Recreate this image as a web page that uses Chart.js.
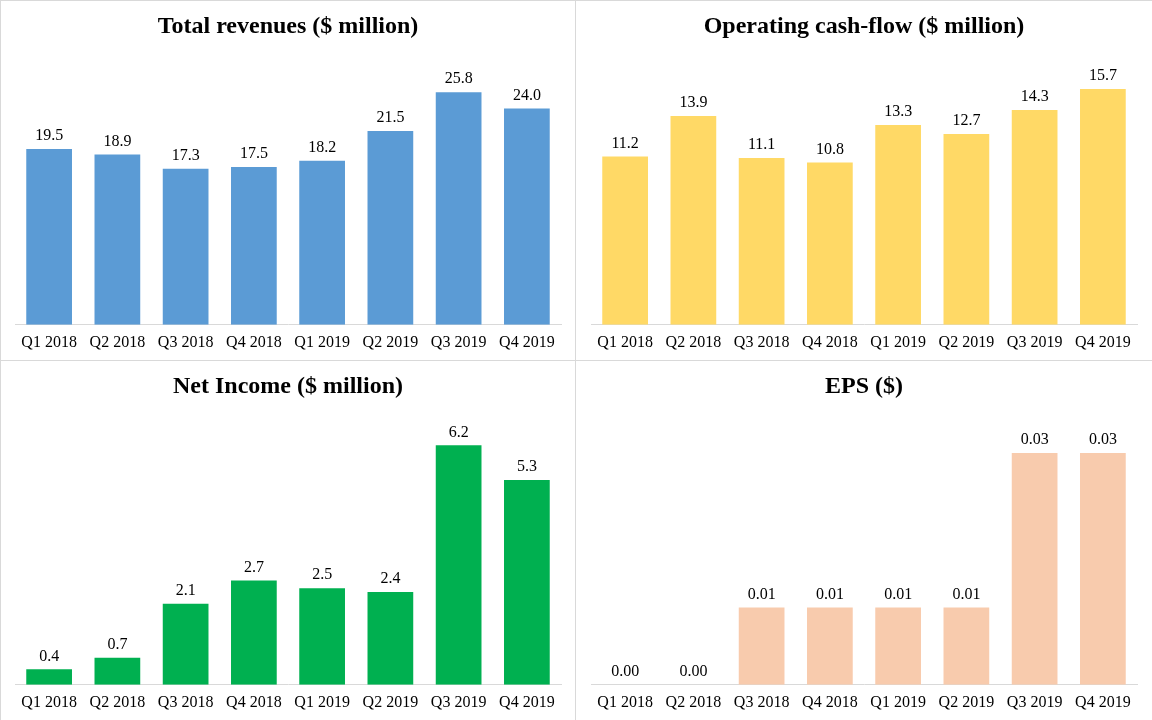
<!DOCTYPE html>
<html>
<head>
<meta charset="utf-8">
<script src="https://cdn.jsdelivr.net/npm/chart.js@4"></script>
<style>
  body { margin: 0; background: #fff; }
  #wrap { position: relative; width: 1152px; height: 720px; overflow: hidden; }
  .panel { position: absolute; width: 576px; height: 360px; }
  .line { position: absolute; background: #d9d9d9; }
</style>
</head>
<body>
<div id="wrap">
  <div class="panel" style="left:0;top:0"><canvas id="c1" width="576" height="360"></canvas></div>
  <div class="panel" style="left:576px;top:0"><canvas id="c2" width="576" height="360"></canvas></div>
  <div class="panel" style="left:0;top:360px"><canvas id="c3" width="576" height="360"></canvas></div>
  <div class="panel" style="left:576px;top:360px"><canvas id="c4" width="576" height="360"></canvas></div>
  <div class="line" style="left:0;top:0;width:1px;height:720px"></div>
  <div class="line" style="left:575px;top:0;width:1px;height:720px"></div>
  <div class="line" style="left:0;top:0;width:1152px;height:1px"></div>
  <div class="line" style="left:0;top:360px;width:1152px;height:1px"></div>
</div>
<script>
const quarters = ["Q1 2018", "Q2 2018", "Q3 2018", "Q4 2018", "Q1 2019", "Q2 2019", "Q3 2019", "Q4 2019"];
const revenues = [19.5, 18.9, 17.3, 17.5, 18.2, 21.5, 25.8, 24.0];
const cashFlow = [11.2, 13.9, 11.1, 10.8, 13.3, 12.7, 14.3, 15.7];
const netIncome = [0.4, 0.7, 2.1, 2.7, 2.5, 2.4, 6.2, 5.3];
const eps = [0.00, 0.00, 0.01, 0.01, 0.01, 0.01, 0.03, 0.03];

const serif = "'Liberation Serif', 'Times New Roman', serif";

// draws the value above each bar
const valueLabels = {
  id: 'valueLabels',
  afterDatasetsDraw(chart, args, opts) {
    const ctx = chart.ctx;
    const meta = chart.getDatasetMeta(0);
    const data = chart.data.datasets[0].data;
    ctx.save();
    ctx.font = "16px " + serif;
    ctx.fillStyle = "#000";
    ctx.textAlign = "center";
    ctx.textBaseline = "bottom";
    meta.data.forEach((bar, i) => {
      ctx.fillText(data[i].toFixed(opts.digits), bar.x, bar.y - 5);
    });
    ctx.restore();
  }
};

function makeChart(id, title, values, color, max, digits) {
  new Chart(id, {
    type: "bar",
    data: {
      labels: quarters,
      datasets: [{
        data: values,
        backgroundColor: color,
        barPercentage: 0.67,
        categoryPercentage: 1.0
      }]
    },
    options: {
      responsive: false,
      animation: false,
      layout: { padding: { left: 15, right: 15, top: 0, bottom: 0 } },
      plugins: {
        legend: { display: false },
        tooltip: { enabled: false },
        title: {
          display: true,
          text: title,
          color: "#000",
          font: { family: serif, size: 24, weight: "bold" },
          padding: { top: 12, bottom: 13.6 }
        },
        valueLabels: { digits: digits }
      },
      scales: {
        x: {
          grid: { display: false, drawTicks: false },
          border: { color: "#d9d9d9", width: 1 },
          ticks: { color: "#000", font: { family: serif, size: 16 }, padding: 8, maxRotation: 0, autoSkip: false }
        },
        y: { display: false, min: 0, max: max }
      }
    },
    plugins: [valueLabels]
  });
}

makeChart("c1", "Total revenues ($ million)", revenues, "#5B9BD5", 30, 1);
makeChart("c2", "Operating cash-flow ($ million)", cashFlow, "#FFD966", 18, 1);
makeChart("c3", "Net Income ($ million)", netIncome, "#00B050", 7, 1);
makeChart("c4", "EPS ($)", eps, "#F8CBAD", 0.035, 2);
</script>
</body>
</html>
